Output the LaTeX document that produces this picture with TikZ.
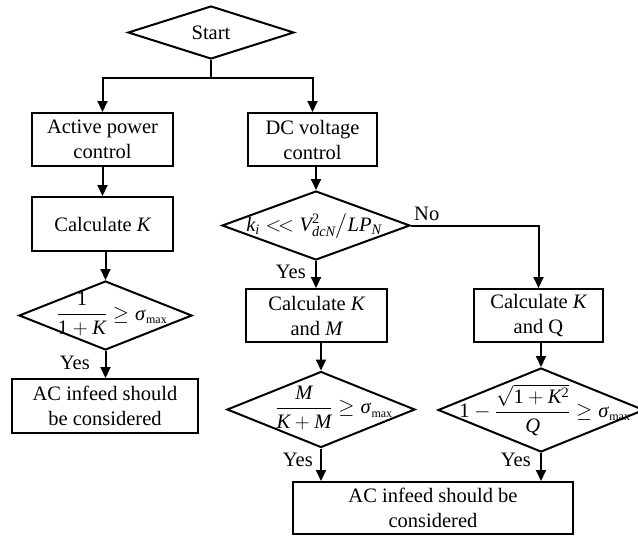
\documentclass[tikz,border=0pt]{standalone}
\usepackage{amsmath}
\usepackage{mathspec}
\setmainfont{Liberation Serif}
\setmathsfont(Digits,Latin,Greek){Liberation Serif}
\usetikzlibrary{shapes.geometric,arrows.meta}
\newcommand\fs{\fontsize{20.5pt}{25pt}\selectfont}
\newcommand\smax{\sigma_{\hbox{\fontsize{12pt}{12pt}\selectfont max}}}
\tikzset{
  box/.style={draw, line width=2pt, rectangle, inner sep=0pt, align=center, font=\fs},
  dia/.style={draw, line width=2pt, diamond, inner sep=0pt},
  arr/.style={line width=2pt, -{Triangle[length=11pt,width=10pt]}},
  ln/.style={line width=2pt},
  lbl/.style={inner sep=0pt, font=\fs},
}
\begin{document}
\begin{tikzpicture}[x=1pt,y=-1pt]
\useasboundingbox (0,0) rectangle (638,536);
% start
\node[dia, minimum width=166pt, minimum height=53pt] (start) at (211,32.5) {};
\node[lbl] (starttxt) at (211,33) {Start};
% left column
\node[box, minimum width=141pt, minimum height=53pt] (act) at (102.5,139.5) {Active power\\control};
\node[box, minimum width=141pt, minimum height=54pt] (calcK) at (102.5,224) {Calculate $K$};
\node[dia, minimum width=173pt, minimum height=69pt] (d1) at (105.5,315.5) {};
\node[lbl] (d1txt) at (112,314) {$\dfrac{1}{1+K}\geq\smax$};
\node[box, minimum width=186pt, minimum height=54pt] (ac1) at (105,406) {AC infeed should\\be considered};
% middle column
\node[box, minimum width=129pt, minimum height=53pt] (dc) at (312.5,139.5) {DC voltage\\control};
\node[dia, minimum width=188pt, minimum height=69pt] (dk) at (316,225.5) {};
\node[lbl] (dktxt) at (314,226) {$k_i <\!< V^{2}_{dcN}\big/LP_N$};
\node[box, minimum width=141pt, minimum height=53pt] (calcKM) at (316.5,315.5) {Calculate $K$\\and $M$};
\node[dia, minimum width=188pt, minimum height=76pt] (dM) at (321,409.5) {};
\node[lbl] (dMtxt) at (334,408) {$\dfrac{M}{K+M}\geq\smax$};
% right column
\node[box, minimum width=129pt, minimum height=53pt] (calcKQ) at (538.5,315.5) {Calculate $K$\\and Q};
\node[dia, minimum width=206pt, minimum height=84pt] (dQ) at (541,410) {};
\node[lbl] (dQtxt) at (545,410) {$1-\dfrac{\sqrt{1+K^{2}}}{Q}\geq\smax$};
% bottom
\node[box, minimum width=280pt, minimum height=52pt] (ac2) at (433,508) {AC infeed should be\\considered};
% labels
\node[lbl, anchor=base east] (y1) at (90,369) {Yes};
\node[lbl, anchor=base east] (y2) at (306,278) {Yes};
\node[lbl, anchor=base west] (no) at (414,220) {No};
\node[lbl, anchor=base east] (y3) at (313,466) {Yes};
\node[lbl, anchor=base east] (y4) at (531,466) {Yes};
% connectors
\coordinate (br) at (211,78);
\draw[ln] (start.south) -- (br);
\draw[arr] (br) -| (act.north);
\draw[arr] (br) -| (dc.north);
\draw[arr] (act.south) -- (calcK.north);
\draw[arr] (calcK.south -| d1.north) -- (d1.north);
\draw[arr] (d1.south) -- (d1.south |- ac1.north);
\draw[arr] (dc.south -| dk.north) -- (dk.north);
\draw[arr] (dk.south) -- (dk.south |- calcKM.north);
\draw[arr] (dk.east) -| (calcKQ.north);
\draw[arr] (calcKM.south -| dM.north) -- (dM.north);
\draw[arr] (calcKQ.south -| dQ.north) -- (dQ.north);
\draw[arr] (dM.south) -- (dM.south |- ac2.north);
\draw[arr] (dQ.south) -- (dQ.south |- ac2.north);
\end{tikzpicture}
\end{document}
